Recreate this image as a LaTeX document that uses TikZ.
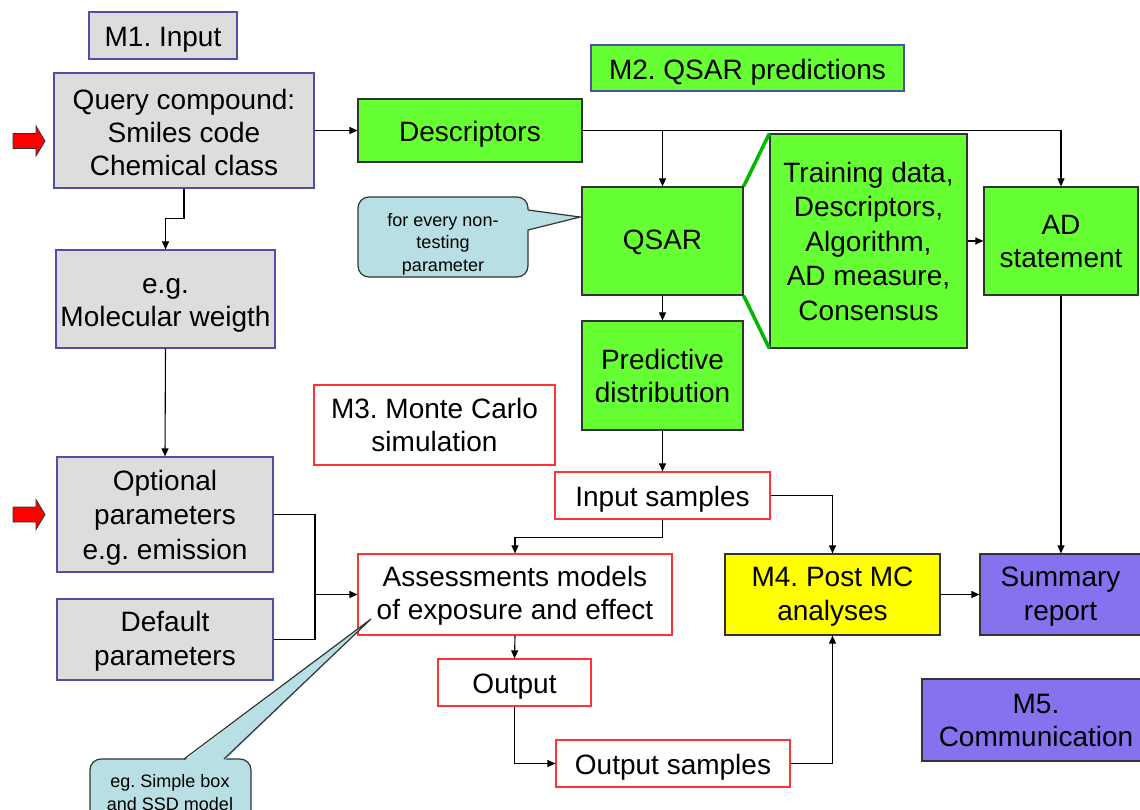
\documentclass[tikz,border=0pt]{standalone}
\usepackage{fontspec}
\setmainfont{Liberation Sans}
\frenchspacing
\usetikzlibrary{arrows.meta}
\definecolor{boxgray}{HTML}{DDDDDD}
\definecolor{edgeblue}{HTML}{5050A8}
\definecolor{qgreen}{HTML}{66FF33}
\definecolor{linkgreen}{HTML}{00B800}
\definecolor{mcred}{HTML}{FF3333}
\definecolor{postyellow}{HTML}{FFFF00}
\definecolor{commpurple}{HTML}{8572EE}
\definecolor{notecyan}{HTML}{B8DFE3}
\definecolor{darkedge}{HTML}{333333}
\newcommand{\bigtxt}{\fontsize{28}{33}\selectfont}
\newcommand{\smalltxt}{\fontsize{18}{22.5}\selectfont}
% invisible first-line strut that lowers a text block inside its box
\newcommand{\lift}[1]{\rule{0pt}{#1}}
\tikzset{
  basebox/.style={draw, line width=1.2pt, inner sep=0pt, align=center, font=\bigtxt, text=black},
  skip/.style={font=\fontsize{28}{#1}\selectfont},
  inbox/.style={basebox, fill=boxgray, draw=edgeblue},
  qbox/.style={basebox, fill=qgreen, draw=darkedge},
  mcbox/.style={basebox, fill=white, draw=mcred},
  postbox/.style={basebox, fill=postyellow, draw=darkedge},
  commbox/.style={basebox, fill=commpurple, draw=darkedge},
  notetext/.style={inner sep=0pt, align=center, font=\smalltxt, text=black},
  notefill/.style={fill=notecyan, draw=darkedge, line width=1.2pt},
  link/.style={draw=black, line width=1.1pt, -{Triangle[length=8pt,width=7pt]}},
  plainlink/.style={draw=black, line width=1.1pt},
  zoomline/.style={draw=linkgreen, line width=3.5pt},
  redarrow/.style={fill=red, draw=darkedge, line width=0.8pt}
}
\begin{document}
\begin{tikzpicture}[x=1pt, y=-1pt]
\useasboundingbox (0,0) rectangle (1140,809);
\fill[white] (0,0) rectangle (1140,809);

% M1: input
\node[inbox, minimum width=148pt, minimum height=47pt] (m1) at (163,35.5) {\lift{28pt}M1. Input};
\node[inbox, minimum width=260pt, minimum height=115pt] (query) at (184,130.5) {\lift{23.5pt}Query compound:\\Smiles code\\Chemical class};
\node[inbox, minimum width=219pt, minimum height=98pt] (molw) at (165.5,299) {\lift{27.5pt}e.g.\\Molecular weigth};
\node[inbox, skip=34.5, minimum width=216pt, minimum height=115pt] (opt) at (165,514.5) {\lift{26.5pt}Optional\\parameters\\e.g. emission};
\node[inbox, skip=34, minimum width=216pt, minimum height=81pt] (def) at (165,639.5) {\lift{24pt}Default\\parameters};

% M2: QSAR predictions
\node[basebox, fill=qgreen, draw=edgeblue, minimum width=313pt, minimum height=46pt] (m2) at (747.5,68) {\lift{28pt}M2. QSAR predictions};
\node[qbox, minimum width=224pt, minimum height=63pt] (desc) at (470,130.5) {\lift{28pt}Descriptors};
\node[qbox, minimum width=161pt, minimum height=108pt] (qsar) at (662.5,241) {\lift{23pt}QSAR};
\node[qbox, skip=34.5, minimum width=197pt, minimum height=214pt] (train) at (868.5,241) {Training data,\\Descriptors,\\Algorithm,\\AD measure,\\Consensus};
\node[qbox, minimum width=154pt, minimum height=108pt] (adst) at (1061,241) {AD\\statement};
\node[qbox, minimum width=161pt, minimum height=109pt] (pred) at (662.5,375.5) {Predictive\\distribution};

% M3: Monte Carlo simulation
\node[mcbox, minimum width=241pt, minimum height=80pt] (m3) at (434.5,425) {M3. Monte Carlo\\simulation};
\node[mcbox, minimum width=215pt, minimum height=47pt] (insamp) at (662.5,495.5) {\lift{27.5pt}Input samples};
\node[mcbox, minimum width=314pt, minimum height=81pt] (assess) at (515,594.5) {\lift{23.5pt}Assessments models\\of exposure and effect};
\node[mcbox, minimum width=153pt, minimum height=47pt] (output) at (514.5,682.5) {\lift{27.5pt}Output};
\node[mcbox, minimum width=234pt, minimum height=47pt] (outsamp) at (673,763.5) {\lift{27.5pt}Output samples};

% M4 and M5
\node[postbox, skip=34, minimum width=215pt, minimum height=81pt] (m4) at (832.5,594.5) {\lift{23pt}M4. Post MC\\analyses};
\node[commbox, skip=34, minimum width=161pt, minimum height=81pt] (summ) at (1060.5,594.5) {\lift{23pt}Summary\\report};
\node[commbox, minimum width=228pt, minimum height=82pt] (m5) at (1036,720) {M5.\\Communication};

% zoom lines from QSAR to its details
\draw[zoomline] (qsar.north east) -- (train.north west);
\draw[zoomline] (qsar.south east) -- (train.south west);

% connectors
\draw[link] (query.east) -- (desc.west);
\draw[link] (desc.east) -- (adst.north |- desc.east) -- (adst.north);
\coordinate (descsplit) at (qsar.north |- desc.east);
\draw[link] (descsplit) -- (qsar.north);
\draw[link] (query.south) -- ++(0,30) -| (molw.north);
\draw[link] (molw.south) -- (opt.north);
\coordinate (merge) at (315,594.5);
\draw[plainlink] (opt.east) -| (merge) |- (def.east);
\draw[link] (merge) -- (assess.west);
\draw[link] (train.east) -- (adst.west);
\draw[link] (qsar.south) -- (pred.north);
\draw[link] (pred.south) -- (insamp.north);
\draw[link] (insamp.south) -- ++(0,18) -| (assess.north);
\draw[link] (insamp.east) -| (m4.north);
\draw[link] (assess.south) -- (output.north);
\draw[link] (output.south) |- (outsamp.west);
\draw[link] (outsamp.east) -| (m4.south);
\draw[link] (m4.east) -- (summ.west);
\draw[link] (adst.south) -- (summ.north -| adst.south);

% red input arrows
\draw[redarrow] (13,133.5) -- (36,133.5) -- (36,126) -- (45,141) -- (36,156) -- (36,148.5) -- (13,148.5) -- cycle;
\draw[redarrow] (13,507) -- (36,507) -- (36,499.5) -- (45,514.5) -- (36,529.5) -- (36,522) -- (13,522) -- cycle;

% note on QSAR
\path[notefill, rounded corners=11pt] (358,197) rectangle (528,277);
\fill[notecyan] (526,210) -- (580,217) -- (526,230) -- cycle;
\draw[darkedge, line width=1.2pt] (528,210) -- (580,217) -- (528,230);
\node[notetext] (note1) at (443,241) {\lift{19pt}for every non-\\testing\\parameter};

% note on assessment models
\path[notefill, rounded corners=11pt] (90,759) rectangle (251,840);
\fill[notecyan] (184,761) -- (371,619) -- (224,761) -- cycle;
\draw[darkedge, line width=1.2pt] (184,759) -- (371,619) -- (224,759);
\node[notetext] (note2) at (170,792.5) {eg. Simple box\\and SSD model};
\end{tikzpicture}
\end{document}
